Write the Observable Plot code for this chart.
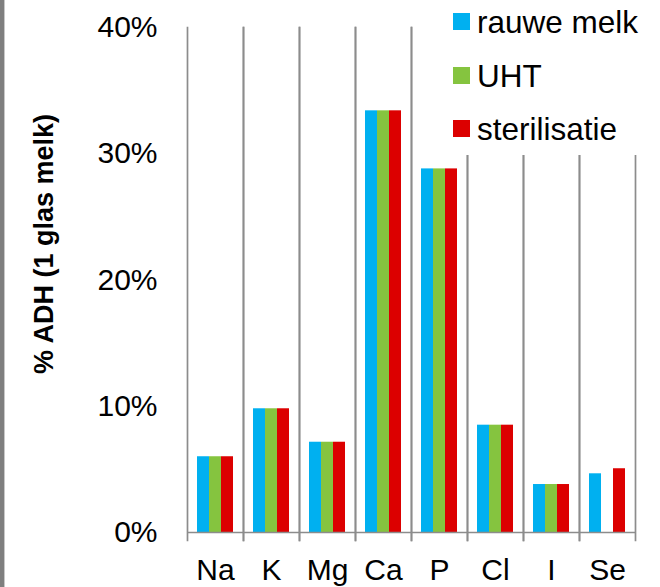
<!DOCTYPE html>
<html>
<head>
<meta charset="utf-8">
<script src="https://cdn.jsdelivr.net/npm/d3@7"></script>
<script src="https://cdn.jsdelivr.net/npm/@observablehq/plot@0.6"></script>
<style>
  body { margin: 0; background: #fff; }
  #wrap { position: relative; width: 660px; height: 587px; overflow: hidden; font-family: "Liberation Sans", Arial, sans-serif; background: #fff; }
  #edge { position: absolute; left: 0; top: 0; width: 4px; height: 587px; background: #7f7f7f; border-right: 1px solid #c8c8c8; }
  #legend { position: absolute; left: 444px; top: 0; width: 216px; height: 155px; background: #fff; }
  .sw { position: absolute; left: 9px; width: 17px; height: 17px; }
  .lt { position: absolute; left: 33px; font-size: 31.5px; line-height: 34px; color: #000; white-space: nowrap; }
</style>
</head>
<body>
<div id="wrap"><div id="edge"></div></div>
<script>
const categories = ["Na", "K", "Mg", "Ca", "P", "Cl", "I", "Se"];
const series = ["rauwe melk", "UHT", "sterilisatie"];
const colors = ["#00B0F0", "#85C43F", "#DC0000"];
const rauweMelk = [6.0, 9.8, 7.15, 33.4, 28.8, 8.5, 3.8, 4.65];
const uht = [6.0, 9.8, 7.15, 33.4, 28.8, 8.5, 3.8, null];
const sterilisatie = [6.0, 9.8, 7.15, 33.4, 28.8, 8.5, 3.8, 5.05];
const yTicks = [0, 10, 20, 30, 40];
const yTitle = "% ADH (1 glas melk)";

const values = [rauweMelk, uht, sterilisatie];
const data = [];
categories.forEach((c, i) => {
  series.forEach((s, j) => {
    const v = values[j][i];
    if (v != null) data.push({category: c, series: s, value: v});
  });
});

const grid = "#8c8c8c";
const chart = Plot.plot({
  width: 660,
  height: 587,
  marginLeft: 184,
  marginRight: 23,
  marginTop: 27,
  marginBottom: 55,
  style: {fontFamily: "'Liberation Sans', Arial, sans-serif", fontSize: "30px", color: "#000", background: "transparent"},
  fx: {domain: categories, padding: 0, label: null, tickSize: 0, tickPadding: 26, axis: "bottom"},
  x: {domain: series, axis: null, paddingInner: 0, paddingOuter: 0.72},
  y: {domain: [0, 40], ticks: yTicks, tickFormat: d => d + "%", tickSize: 0, tickPadding: 30, label: null},
  color: {domain: series, range: colors},
  marks: [
    Plot.barY(data, {fx: "category", x: "series", y: "value", fill: "series"}),
    Plot.ruleY([0], {stroke: grid, strokeWidth: 1.7}),
    Plot.frame({anchor: "left", stroke: grid, strokeWidth: 1.7, insetBottom: -8}),
    Plot.frame({anchor: "right", stroke: grid, strokeWidth: 1.7, insetBottom: -8}),
    Plot.text([{fx: categories[0], label: yTitle}], {fx: "fx", text: "label", frameAnchor: "left", textAnchor: "middle", lineAnchor: "middle", rotate: -90, dx: -143, dy: -36, fontWeight: "bold", fontSize: 27, fill: "#000"})
  ]
});
const wrap = document.getElementById("wrap");
wrap.insertBefore(chart, wrap.firstChild);

const legend = document.createElement("div");
legend.id = "legend";
series.forEach((s, j) => {
  const sw = document.createElement("div");
  sw.className = "sw";
  sw.style.top = (13 + j * 53.5) + "px";
  sw.style.background = colors[j];
  legend.appendChild(sw);
  const t = document.createElement("div");
  t.className = "lt";
  t.style.top = (5 + j * 53.5) + "px";
  t.textContent = s;
  legend.appendChild(t);
});
wrap.appendChild(legend);
</script>
</body>
</html>
